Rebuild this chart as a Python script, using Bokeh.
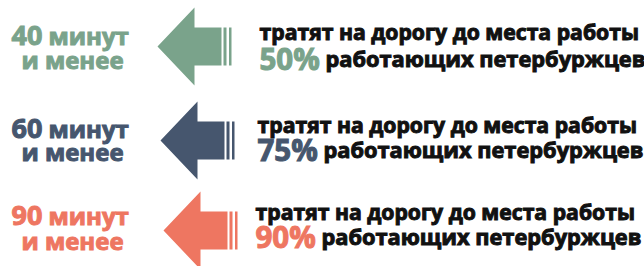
from bokeh.plotting import figure
from bokeh.models import Range1d
from bokeh.core.properties import value
from bokeh.embed import file_html
from bokeh.resources import INLINE

# ---- data ----
minutes = [40, 60, 90]
shares = [50, 75, 90]
unit_label = "минут"
less_label = "и менее"
line1_label = "тратят на дорогу до места работы"
line2_label = "работающих петербуржцев"

# ---- styles / layout ----
colors = ["#7aa38b", "#46566e", "#ee7661"]
row_y = [46, 140, 230]
tip_x = [157, 160, 163]
right_x = [259, 257, 255]
left_base1 = [35, 128, 215]
left_base2 = [59, 151, 240]
right_base1 = [31, 124, 211]
right_base2 = [58, 149, 236]
FONT = "Open Sans"

p = figure(width=644, height=266, output_backend="svg", toolbar_location=None,
           x_range=Range1d(0, 644), y_range=Range1d(266, 0),
           min_border=0, outline_line_color=None)
p.axis.visible = False
p.grid.visible = False
p.background_fill_color = "white"
p.border_fill_color = "white"

# arrow shape offsets relative to tip
HEAD_D, HEAD_H, SHAFT_H, SHAFT_END = 37, 39, 19, 64
STRIPES = [(66, 69), (71.5, 74)]

def txt(x, y, s, size, color, align):
    p.text(x=[x], y=[y], text=[s], text_font=value(FONT), text_font_style="bold",
           text_font_size=size, text_color=color, text_align=align, text_baseline="alphabetic",
           text_outline_color=color)

for i, (m, s) in enumerate(zip(minutes, shares)):
    cy, tx, c = row_y[i], tip_x[i], colors[i]
    xs = [tx, tx + HEAD_D, tx + HEAD_D, tx + SHAFT_END, tx + SHAFT_END, tx + HEAD_D, tx + HEAD_D]
    ys = [cy, cy - HEAD_H, cy - SHAFT_H, cy - SHAFT_H, cy + SHAFT_H, cy + SHAFT_H, cy + HEAD_H]
    p.patch(xs, ys, fill_color=c, line_color=None)
    for a, b in STRIPES:
        p.quad(left=tx + a, right=tx + b, top=cy - SHAFT_H, bottom=cy + SHAFT_H,
               fill_color=c, line_color=None)

    txt(42, left_base1[i], str(m), "27px", c, "right")
    txt(48, left_base1[i], unit_label, "24px", c, "left")
    txt(72, left_base2[i], less_label, "24px", c, "center")

    rx = right_x[i]
    txt(rx, right_base1[i], line1_label, "21.2px", "#111111", "left")
    txt(rx, right_base2[i], f"{s}%", "29.5px", c, "left")
    txt(rx + 66, right_base2[i], line2_label, "21.8px", "#111111", "left")

open("out.html", "w").write(file_html(p, INLINE))
